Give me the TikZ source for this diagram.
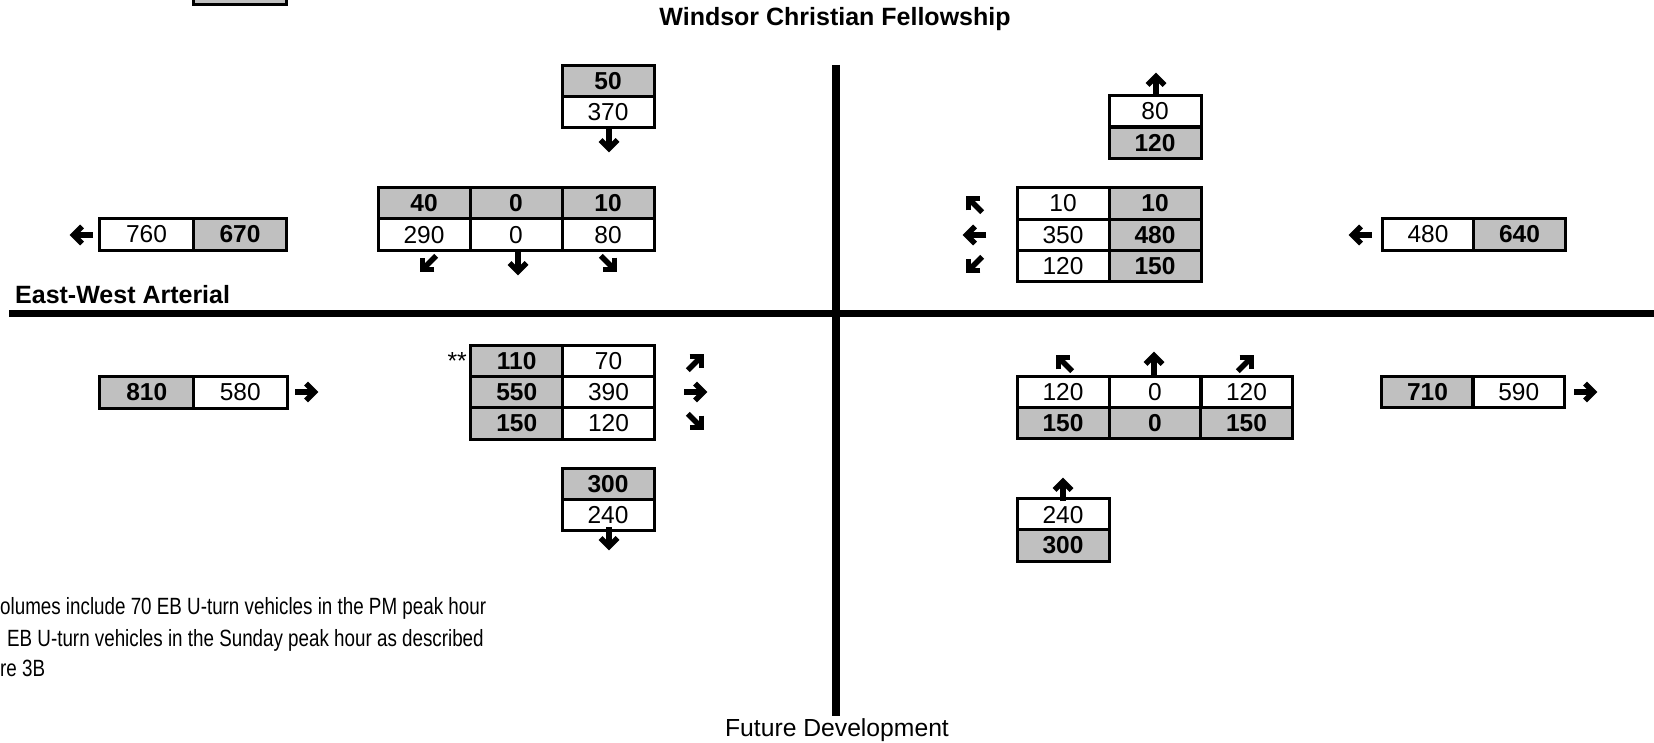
\documentclass[tikz,border=0pt]{standalone}
\usepackage{fontspec}
\setmainfont{Liberation Sans}
\definecolor{cellgray}{HTML}{C0C0C0}
\begin{document}
\begin{tikzpicture}[x=1pt,y=-1pt,
  cell/.style={draw, line width=3pt, inner sep=0pt, minimum width=92pt, minimum height=31.5pt, font=\fontsize{24.5}{24.5}\selectfont},
  gcell/.style={cell, fill=cellgray, font=\fontsize{24.5}{24.5}\selectfont\bfseries},
  road/.style={line width=7.5pt},
  lbl/.style={inner sep=0pt, font=\fontsize{24.7}{28}\selectfont},
  blbl/.style={inner sep=0pt, font=\fontsize{25}{28}\selectfont\bfseries},
  note/.style={inner sep=0pt, anchor=west, font=\fontsize{23.5}{26}\selectfont},
  garrow/.pic={
    \draw[line width=5.5pt] (-13,0) -- (4,0);
    \draw[line width=5.5pt, miter limit=10] (-2,-8.5) -- (6.5,0) -- (-2,8.5);
  }]
\useasboundingbox (0,0) rectangle (1654,743);

% clipped box at top left
\fill[cellgray] (195,0) rectangle (285,3);
\draw[line width=3pt] (193.5,0) -- (193.5,4.5) -- (286.5,4.5) -- (286.5,0);

% roads
\draw[road] (836,65) -- (836,715.7);
\draw[road] (9,313.7) -- (1654,313.7);

% labels
\node[blbl] (title) at (835,19) {Windsor Christian Fellowship};
\node[blbl, anchor=west] (ew) at (15,295) {East-West Arterial};
\node[lbl] (fut) at (837,730) {Future Development};

% north approach (top left)
\node[gcell] (n50) at (608,81) {50};
\node[cell] (n370) at (608,112) {370};
\pic[rotate=270] at (609,142) {garrow};

% southbound table
\node[gcell] (sb1) at (424,203.25) {40};
\node[gcell] (sb2) at (516,203.25) {0};
\node[gcell] (sb3) at (608,203.25) {10};
\node[cell] (sb4) at (424,234.75) {290};
\node[cell] (sb5) at (516,234.75) {0};
\node[cell] (sb6) at (608,234.75) {80};
\pic[rotate=225] at (427,265) {garrow};
\pic[rotate=270] at (518,265) {garrow};
\pic[rotate=315] at (610,265) {garrow};

% west departure
\node[cell, minimum width=93.5pt] (w760) at (146.5,234.5) {760};
\node[gcell, minimum width=93.5pt] (w670) at (240,234.5) {670};
\pic[rotate=180] at (80,235) {garrow};

% north departure (top right)
\node[cell] (nr80) at (1155,111.2) {80};
\node[gcell] (nr120) at (1155,142.8) {120};
\pic[rotate=90] at (1156,83) {garrow};

% westbound table
\node[cell] (wb1) at (1063,203.5) {10};
\node[gcell] (wb2) at (1155,203.5) {10};
\node[cell] (wb3) at (1063,235) {350};
\node[gcell] (wb4) at (1155,235) {480};
\node[cell] (wb5) at (1063,266) {120};
\node[gcell] (wb6) at (1155,266) {150};
\pic[rotate=135] at (973,203) {garrow};
\pic[rotate=180] at (973,235) {garrow};
\pic[rotate=225] at (973,266) {garrow};

% east approach
\node[cell] (e480) at (1428,234.5) {480};
\node[gcell] (e640) at (1519.5,234.5) {640};
\pic[rotate=180] at (1359,235) {garrow};

% eastbound table
\node[gcell] (eb1) at (516.7,361) {110};
\node[cell] (eb2) at (608.5,361) {70};
\node[gcell] (eb3) at (516.7,392) {550};
\node[cell] (eb4) at (608.5,392) {390};
\node[gcell] (eb5) at (516.7,423.5) {150};
\node[cell] (eb6) at (608.5,423.5) {120};
\node[lbl, anchor=base east] (ast) at (467,369.5) {**};
\pic[rotate=45] at (697,361) {garrow};
\pic[rotate=0] at (697,392) {garrow};
\pic[rotate=315] at (697,423) {garrow};

% south departure (left)
\node[gcell] (s300) at (608,484) {300};
\node[cell] (s240) at (608,515) {240};
\pic[rotate=270] at (609,540) {garrow};

% west approach
\node[gcell, minimum width=93.5pt] (w810) at (146.7,392.5) {810};
\node[cell, minimum width=93.5pt] (w580) at (240.3,392.5) {580};
\pic[rotate=0] at (308,392) {garrow};

% northbound table
\node[cell] (nb1) at (1063,392) {120};
\node[cell] (nb2) at (1155,392) {0};
\node[cell] (nb3) at (1246.5,392) {120};
\node[gcell] (nb4) at (1063,423) {150};
\node[gcell] (nb5) at (1155,423) {0};
\node[gcell] (nb6) at (1246.5,423) {150};
\pic[rotate=135] at (1063,362) {garrow};
\pic[rotate=90] at (1154,362) {garrow};
\pic[rotate=45] at (1247,362) {garrow};

% south approach (right)
\node[cell] (sr240) at (1063,514.7) {240};
\node[gcell] (sr300) at (1063,545.3) {300};
\pic[rotate=90] at (1063,488) {garrow};

% east departure
\node[gcell] (e710) at (1427.5,392) {710};
\node[cell] (e590) at (1518.7,392) {590};
\pic[rotate=0] at (1587,392) {garrow};

% note
\node[note] (note1) at (0,608) {\scalebox{0.8}[1]{olumes include 70 EB U-turn vehicles in the PM peak hour}};
\node[note] (note2) at (7,640) {\scalebox{0.8}[1]{EB U-turn vehicles in the Sunday peak hour as described}};
\node[note] (note3) at (0,668) {\scalebox{0.8}[1]{re 3B}};
\end{tikzpicture}
\end{document}
